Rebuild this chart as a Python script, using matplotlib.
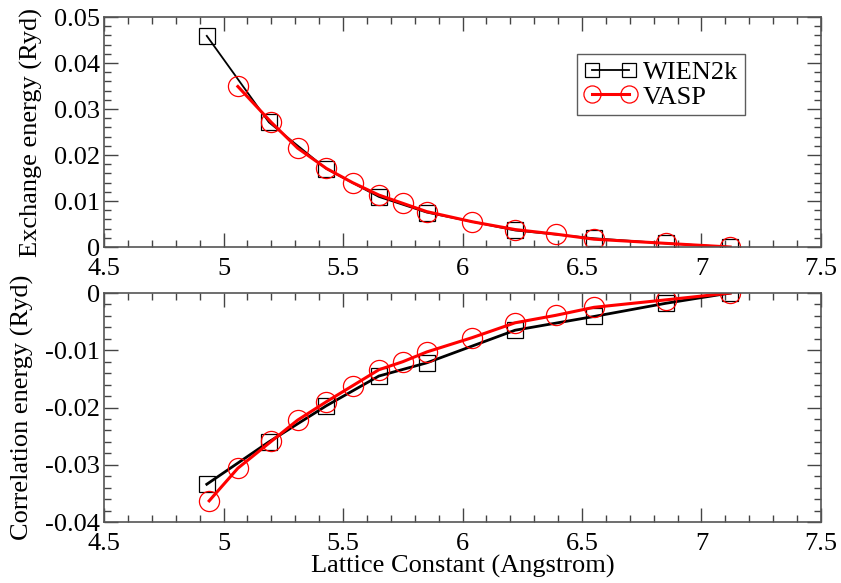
import numpy as np
import matplotlib
matplotlib.use("Agg")
import matplotlib.pyplot as plt
from matplotlib.ticker import MultipleLocator, FuncFormatter

plt.rcParams['font.family'] = ['Liberation Serif', 'DejaVu Serif']

# exchange energy (top panel)
wien_x = [4.93, 5.19, 5.43, 5.65, 5.85, 6.22, 6.55, 6.85, 7.12]
wien_ex = [0.0459, 0.0271, 0.0170, 0.0109, 0.0075, 0.0036, 0.0019, 0.0008, 0.0000]
vasp_x_ex = [5.06, 5.20, 5.31, 5.43, 5.54, 5.65, 5.75, 5.85, 6.04, 6.22, 6.39, 6.55, 6.85, 7.12]
vasp_ex = [0.0349, 0.0271, 0.0215, 0.0171, 0.0140, 0.0113, 0.0095, 0.0077, 0.0055,
           0.0038, 0.0028, 0.0017, 0.0008, 0.0000]

# correlation energy (bottom panel)
wien_corr = [-0.0334, -0.0260, -0.0197, -0.0145, -0.0122, -0.0065, -0.0041, -0.0018, 0.0000]
vasp_x_corr = [4.94, 5.06, 5.20, 5.31, 5.43, 5.54, 5.65, 5.75, 5.85, 6.04, 6.22, 6.39, 6.55, 6.85, 7.12]
vasp_corr = [-0.0363, -0.0306, -0.0259, -0.0222, -0.0190, -0.0162, -0.0134, -0.0120, -0.0103,
             -0.0078, -0.0052, -0.0039, -0.0025, -0.0012, 0.0000]

fig = plt.figure(figsize=(8.41, 5.83), dpi=100)
ax1 = fig.add_axes([0.1237, 0.5763, 0.8525, 0.3945])
ax2 = fig.add_axes([0.1237, 0.1046, 0.8525, 0.3928])

fmt = FuncFormatter(lambda v, p: "%g" % round(v, 6))
fs = 19

def style(ax, ymin, ymax):
    ax.set_xlim(4.5, 7.5)
    ax.set_ylim(ymin, ymax)
    ax.xaxis.set_major_locator(MultipleLocator(0.5))
    ax.xaxis.set_minor_locator(MultipleLocator(0.1))
    ax.yaxis.set_major_locator(MultipleLocator(0.01))
    ax.yaxis.set_minor_locator(MultipleLocator(0.002))
    ax.xaxis.set_major_formatter(fmt)
    ax.yaxis.set_major_formatter(fmt)
    ax.tick_params(which='both', direction='in', top=True, right=True,
                   labelsize=fs, color='#444444')
    ax.tick_params(axis='x', pad=8)
    ax.tick_params(axis='y', pad=3)
    ax.tick_params(which='major', length=10, width=1)
    ax.tick_params(which='minor', length=5, width=1)
    for s in ax.spines.values():
        s.set_color('#555555')
        s.set_linewidth(1.2)

ax1.plot(wien_x, wien_ex, color='black', lw=1.3, marker='s', ms=11.5,
         mfc='none', mec='black', mew=0.9, label='WIEN2k')
ax1.plot(vasp_x_ex, vasp_ex, color='red', lw=2.2, marker='o', ms=14.5,
         mfc='none', mec='red', mew=0.9, label='VASP')
style(ax1, 0, 0.05)
ax1.set_ylabel('Exchange energy (Ryd)', fontsize=fs, labelpad=8)
leg = ax1.legend(loc='upper left', bbox_to_anchor=(0.66, 0.84), numpoints=2,
                 fontsize=fs, frameon=True, fancybox=False, handlelength=2.0,
                 handletextpad=0.25, borderpad=0.25, labelspacing=0.05,
                 borderaxespad=0, markerscale=0.85)
leg.get_frame().set_edgecolor('#333333')
leg.get_frame().set_linewidth(1.0)

ax2.plot(wien_x, wien_corr, color='black', lw=2.0, marker='s', ms=11.5,
         mfc='none', mec='black', mew=0.9)
ax2.plot(vasp_x_corr, vasp_corr, color='red', lw=2.2, marker='o', ms=14.5,
         mfc='none', mec='red', mew=0.9)
style(ax2, -0.04, 0)
ax2.set_ylabel('Correlation energy (Ryd)', fontsize=fs, labelpad=8)
ax2.set_xlabel('Lattice Constant (Angstrom)', fontsize=fs, labelpad=0)

fig.savefig('out.png', dpi=100)
